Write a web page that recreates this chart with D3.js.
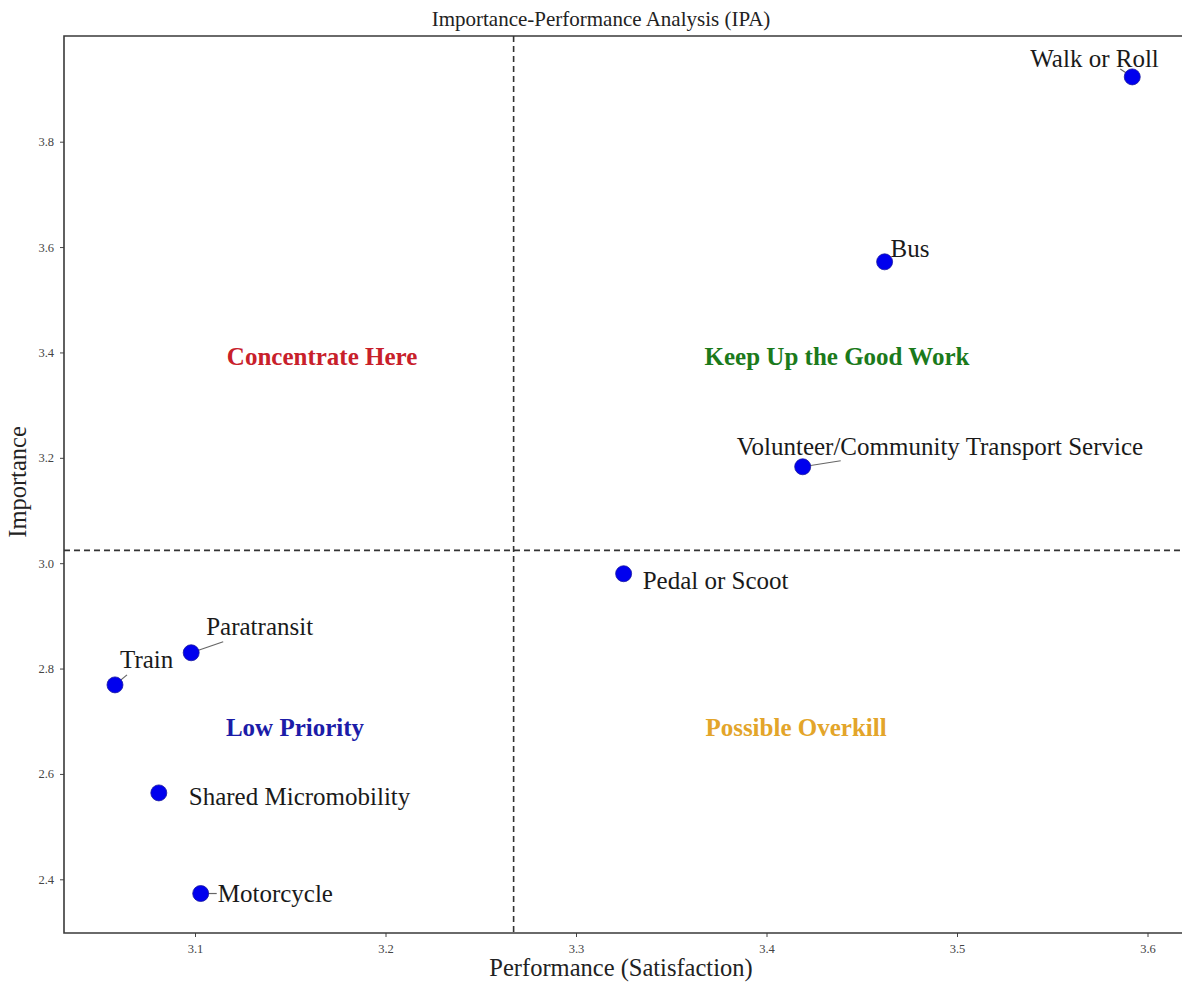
<!DOCTYPE html>
<html>
<head>
<meta charset="utf-8">
<title>IPA</title>
<script src="https://cdn.jsdelivr.net/npm/d3@7"></script>
<style>
body { margin: 0; background: #fff; }
svg { display: block; font-family: "Liberation Serif", "Times New Roman", serif; }
.tick text { font-size: 12.5px; fill: #444; font-family: "Liberation Serif", "Times New Roman", serif; }
.tick line { stroke: #444; }
</style>
</head>
<body>
<svg width="1182" height="986"></svg>
<script>
// data
var modes = ["Walk or Roll", "Bus", "Volunteer/Community Transport Service", "Pedal or Scoot",
  "Paratransit", "Train", "Shared Micromobility", "Motorcycle"];
var performance = [3.592, 3.462, 3.419, 3.325, 3.098, 3.058, 3.081, 3.103];
var importance = [3.923, 3.572, 3.183, 2.980, 2.830, 2.769, 2.564, 2.373];
var xTicks = [3.1, 3.2, 3.3, 3.4, 3.5, 3.6];
var yTicks = [2.4, 2.6, 2.8, 3.0, 3.2, 3.4, 3.6, 3.8];
var quadNames = ["Concentrate Here", "Keep Up the Good Work", "Low Priority", "Possible Overkill"];
var quadColors = ["#c8202a", "#1b7a1b", "#1c1ca8", "#e3a52a"];
var quadX = [3.1667, 3.437, 3.1525, 3.4155];
var quadY = [3.392, 3.392, 2.688, 2.688];

// label placement (pixels from the point): text anchor, then leader end
var labelDx = [-102, 6, -66, 19, 15, 5, 30, 17];
var labelDy = [-10, -5, -12, 15, -18, -17, 12, 8];
var leadDx = [-12, 0, 38, 0, 32, 12, 0, 16];
var leadDy = [-8, 0, -6, 0, -11, -10, 0, 0];

var svg = d3.select("svg");
var plotLeft = 64, plotTop = 36, plotBottom = 933, plotRight = 1190;

var x = d3.scaleLinear().domain([3.1, 3.6]).range([195, 1147.5]);
var y = d3.scaleLinear().domain([2.4, 3.8]).range([879.3, 141.7]);

var pts = modes.map(function(m, i) {
  return { name: m, px: performance[i], py: importance[i], i: i };
});

svg.append("text")
  .attr("x", 601).attr("y", 26)
  .attr("text-anchor", "middle")
  .attr("font-size", 21)
  .attr("fill", "#222")
  .text("Importance-Performance Analysis (IPA)");

// axes
var gx = svg.append("g").attr("transform", "translate(0," + plotBottom + ")")
  .call(d3.axisBottom(x).tickValues(xTicks).tickSize(4).tickPadding(7).tickFormat(d3.format(".1f")));
gx.select(".domain").remove();
var gy = svg.append("g").attr("transform", "translate(" + plotLeft + ",0)")
  .call(d3.axisLeft(y).tickValues(yTicks).tickSize(4).tickPadding(6).tickFormat(d3.format(".1f")));
gy.select(".domain").remove();
svg.selectAll(".tick text").attr("font-family", null);

// spines (the right one falls outside the picture)
svg.append("path")
  .attr("d", "M" + plotRight + "," + plotTop + "H" + plotLeft + "V" + plotBottom + "H" + plotRight)
  .attr("fill", "none").attr("stroke", "#3a3a3a").attr("stroke-width", 1.6);

// mean lines
var mx = d3.mean(performance), my = d3.mean(importance);
svg.append("line")
  .attr("x1", x(mx)).attr("x2", x(mx)).attr("y1", plotTop).attr("y2", plotBottom)
  .attr("stroke", "#333").attr("stroke-width", 1.6).attr("stroke-dasharray", "6,4");
svg.append("line")
  .attr("x1", plotLeft).attr("x2", plotRight).attr("y1", y(my)).attr("y2", y(my))
  .attr("stroke", "#333").attr("stroke-width", 1.6).attr("stroke-dasharray", "6,4");

// quadrant names
svg.selectAll(".quad").data(quadNames).enter().append("text")
  .attr("class", "quad")
  .attr("x", function(d, i) { return x(quadX[i]); })
  .attr("y", function(d, i) { return y(quadY[i]); })
  .attr("text-anchor", "middle")
  .attr("dominant-baseline", "central")
  .attr("font-size", 25)
  .attr("font-weight", "bold")
  .attr("fill", function(d, i) { return quadColors[i]; })
  .text(function(d) { return d; });

// leader lines
svg.selectAll(".lead").data(pts.filter(function(d) { return leadDx[d.i] || leadDy[d.i]; }))
  .enter().append("line")
  .attr("x1", function(d) { return x(d.px); })
  .attr("y1", function(d) { return y(d.py); })
  .attr("x2", function(d) { return x(d.px) + leadDx[d.i]; })
  .attr("y2", function(d) { return y(d.py) + leadDy[d.i]; })
  .attr("stroke", "#666").attr("stroke-width", 1.2);

svg.selectAll(".dot").data(pts).enter().append("circle")
  .attr("cx", function(d) { return x(d.px); })
  .attr("cy", function(d) { return y(d.py); })
  .attr("r", 8)
  .attr("fill", "#0000ee")
  .attr("stroke", "#1a1aa0").attr("stroke-width", 0.8);

svg.selectAll(".lbl").data(pts).enter().append("text")
  .attr("x", function(d) { return x(d.px) + labelDx[d.i]; })
  .attr("y", function(d) { return y(d.py) + labelDy[d.i]; })
  .attr("font-size", 25)
  .attr("fill", "#1a1a1a")
  .text(function(d) { return d.name; });

svg.append("text")
  .attr("x", 621).attr("y", 976)
  .attr("text-anchor", "middle")
  .attr("font-size", 24.5)
  .attr("fill", "#222")
  .text("Performance (Satisfaction)");

svg.append("text")
  .attr("transform", "translate(26,482) rotate(-90)")
  .attr("text-anchor", "middle")
  .attr("font-size", 24.5)
  .attr("fill", "#222")
  .text("Importance");
</script>
</body>
</html>
